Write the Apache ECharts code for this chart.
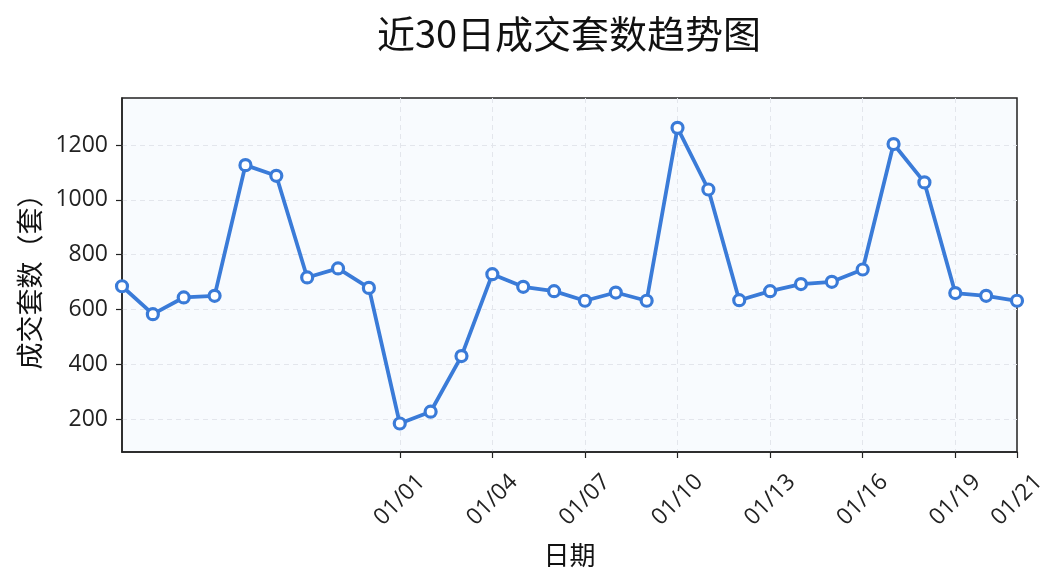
<!DOCTYPE html>
<html>
<head>
<meta charset="utf-8">
<script src="https://cdn.jsdelivr.net/npm/echarts@6/dist/echarts.min.js"></script>
<style>
  html, body { margin: 0; padding: 0; background: #fff; }
  #chart { width: 1064px; height: 585px; }
</style>
</head>
<body>
<div id="chart"></div>
<script>
// 日期 (12/23 - 01/21)
var dates = [
  '12/23', '12/24', '12/25', '12/26', '12/27', '12/28', '12/29', '12/30', '12/31',
  '01/01', '01/02', '01/03', '01/04', '01/05', '01/06', '01/07', '01/08', '01/09', '01/10',
  '01/11', '01/12', '01/13', '01/14', '01/15', '01/16', '01/17', '01/18', '01/19', '01/20', '01/21'
];
// 成交套数
var deals = [
  685, 583, 644, 650, 1127, 1088, 717, 750, 679,
  184, 227, 430, 729, 683, 667, 632, 662, 632, 1263,
  1038, 634, 667, 693, 701, 746, 1204, 1064, 660, 650, 632
];
// 显示的刻度
var xTickLabels = ['01/01', '01/04', '01/07', '01/10', '01/13', '01/16', '01/19', '01/21'];
var yTicks = [200, 400, 600, 800, 1000, 1200];

var font = '"Open Sans", "Noto Sans CJK SC", sans-serif';
var cjkFont = '"Noto Sans CJK SC", sans-serif';
var showTick = function (index, value) {
  return xTickLabels.indexOf(value) !== -1;
};
// 最右边是边框，不画网格线
var showGrid = function (index, value) {
  return index < dates.length - 1 && xTickLabels.indexOf(value) !== -1;
};

var chart = echarts.init(document.getElementById('chart'));
var option = {
  animation: false,
  title: {
    text: '近30日成交套数趋势图',
    left: 564,
    top: 10,
    textAlign: 'center',
    textStyle: {
      color: '#111',
      fontSize: 38,
      fontWeight: 'normal',
      fontFamily: cjkFont
    }
  },
  grid: {
    left: 122,
    right: 47,
    top: 98,
    bottom: 133,
    show: true,
    backgroundColor: '#f8fbfe',
    borderColor: '#222',
    borderWidth: 1.5
  },
  xAxis: {
    type: 'category',
    boundaryGap: false,
    data: dates,
    name: '日期',
    nameLocation: 'middle',
    nameGap: 90,
    nameTextStyle: { color: '#111', fontSize: 26, fontFamily: cjkFont },
    axisLine: { lineStyle: { color: '#222', width: 1.5 } },
    axisTick: { interval: showTick, length: 6, lineStyle: { color: '#222', width: 1.2 } },
    axisLabel: {
      interval: showTick,
      rotate: 45,
      align: 'center',
      verticalAlign: 'middle',
      margin: 48,
      color: '#222',
      fontSize: 23,
      fontFamily: font
    },
    splitLine: {
      show: true,
      interval: showGrid,
      lineStyle: { color: '#e3e6ec', type: [5, 4], width: 1 }
    }
  },
  yAxis: {
    type: 'value',
    min: 80,
    max: 1372,
    name: '成交套数（套）',
    nameLocation: 'middle',
    nameGap: 79,
    nameTextStyle: { color: '#111', fontSize: 27, fontFamily: cjkFont },
    axisLine: { show: true, lineStyle: { color: '#222', width: 1.5 } },
    axisTick: { show: true, customValues: yTicks, length: 6, lineStyle: { color: '#222', width: 1.2 } },
    axisLabel: {
      customValues: yTicks,
      margin: 14,
      color: '#222',
      fontSize: 23,
      fontFamily: font,
      formatter: function (v) { return String(v); }
    },
    splitLine: {
      show: true,
      lineStyle: { color: '#e3e6ec', type: [5, 4], width: 1 }
    }
  },
  series: [{
    type: 'line',
    data: deals,
    symbol: 'circle',
    symbolSize: 11,
    lineStyle: { color: '#3a7bd8', width: 3.8 },
    itemStyle: { color: '#ffffff', borderColor: '#3a7bd8', borderWidth: 3.2 }
  }]
};
chart.setOption(option);
</script>
</body>
</html>
